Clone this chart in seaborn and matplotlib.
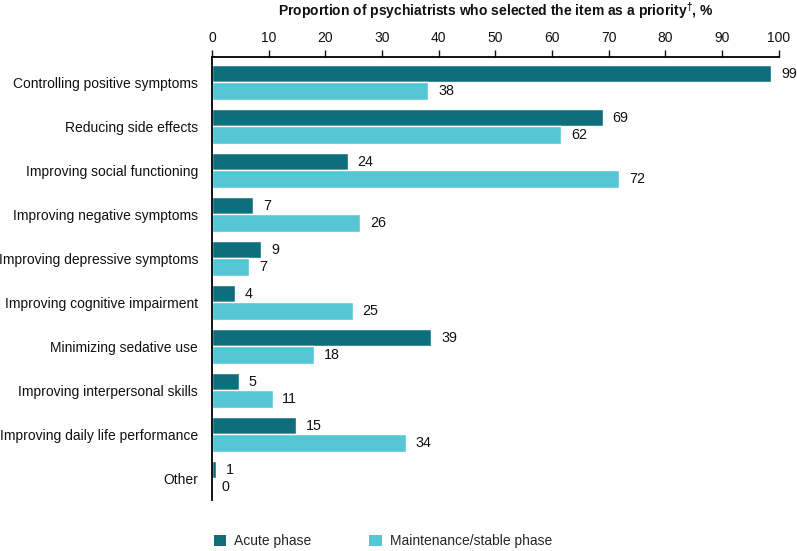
import matplotlib
matplotlib.use("Agg")
import matplotlib.pyplot as plt
import seaborn as sns
import pandas as pd
from matplotlib.patches import Patch

categories = [
    "Controlling positive symptoms",
    "Reducing side effects",
    "Improving social functioning",
    "Improving negative symptoms",
    "Improving depressive symptoms",
    "Improving cognitive impairment",
    "Minimizing sedative use",
    "Improving interpersonal skills",
    "Improving daily life performance",
    "Other",
]
acute = [98.7, 69.0, 24.0, 7.3, 8.7, 4.0, 38.7, 4.7, 14.8, 0.7]
maintenance = [38.2, 61.6, 71.9, 26.2, 6.6, 24.8, 18.0, 10.7, 34.2, 0.0]
series_names = ["Acute phase", "Maintenance/stable phase"]
x_ticks = [0, 10, 20, 30, 40, 50, 60, 70, 80, 90, 100]
title = r"Proportion of psychiatrists who selected the item as a priority$^{\dagger}$, %"

colors = ["#0E6E7C", "#57C6D4"]

sns.set_theme(style="white")
plt.rcParams["font.family"] = ["Liberation Sans", "DejaVu Sans"]
plt.rcParams["mathtext.fontset"] = "custom"
plt.rcParams["mathtext.rm"] = "Liberation Sans:bold"
plt.rcParams["mathtext.bf"] = "Liberation Sans:bold"
plt.rcParams["mathtext.it"] = "Liberation Sans:bold"

df = pd.DataFrame({
    "category": categories * 2,
    "value": acute + maintenance,
    "phase": [series_names[0]] * len(categories) + [series_names[1]] * len(categories),
})

fig = plt.figure(figsize=(7.97, 5.51), dpi=100)
ax = fig.add_axes([0.266, 0.092, 0.711, 0.804])

sns.barplot(data=df, y="category", x="value", hue="phase", orient="h",
            palette=colors, width=0.8, ax=ax, legend=False, saturation=1,
            order=categories, hue_order=series_names)

for cont in ax.containers:
    ax.bar_label(cont, fmt="%.0f", padding=7, fontsize=10.3, color="#111111")

ax.set_xlim(0, 100)
ax.set_ylim(9.5, -0.57)
ax.set_xticks(x_ticks)
ax.xaxis.tick_top()
ax.xaxis.set_label_position("top")
ax.set_xlabel(title, fontsize=10, fontweight="bold", labelpad=11, color="#111111")
ax.set_ylabel("")
ax.tick_params(axis="x", direction="out", length=5, width=1, colors="#111111",
               labelsize=10, pad=4, top=True, bottom=False)
ax.tick_params(axis="y", length=0, labelsize=10, pad=10, colors="#111111")
for s in ["right", "bottom"]:
    ax.spines[s].set_visible(False)
for s in ["left", "top"]:
    ax.spines[s].set_color("black")
    ax.spines[s].set_linewidth(1.3)

handles = [Patch(facecolor=c, edgecolor="none") for c in colors]
fig.legend(handles, series_names, loc="center left", bbox_to_anchor=(0.261, 0.018),
           ncol=2, frameon=False, fontsize=10, handlelength=0.9, handleheight=0.9,
           handletextpad=0.6, columnspacing=4.15, borderaxespad=0)

fig.savefig("out.png", dpi=100)
